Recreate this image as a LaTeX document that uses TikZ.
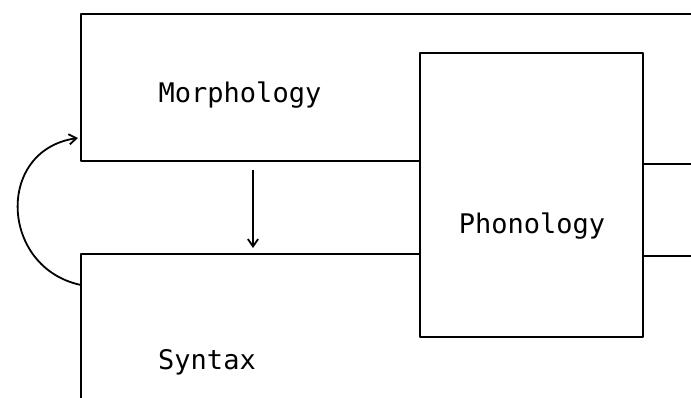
\documentclass[tikz,border=0pt]{standalone}
\usepackage{fontspec}
\setmonofont{DejaVu Sans Mono}
\usetikzlibrary{arrows.meta, positioning}
\tikzstyle{arrow} = [line width=1.8pt, -{Straight Barb[length=2.6mm, width=3.6mm]}]
\tikzstyle{frame} = [line width=2pt]
\tikzstyle{boxtext} = [font=\fontsize{27}{30}\selectfont\ttfamily, anchor=base, inner sep=0pt]

\begin{document}
\begin{tikzpicture}[x=1pt, y=-1pt, line join=round]
    \useasboundingbox (0,0) rectangle (691,398);

    % Morphology (runs off the top right)
    \draw[frame] (691,14) -- (81,14) -- (81,161) -- (420,161);
    % Syntax (runs off the bottom)
    \draw[frame] (81,398) -- (81,254) -- (420,254);
    % Phonology box and the lines leaving it
    \draw[frame] (420,53) rectangle (643,337);
    \draw[frame] (643,164) -- (691,164);
    \draw[frame] (643,256) -- (691,256);

    % Labels
    \node[boxtext] (morph) at (240,103) {Morphology};
    \node[boxtext] (phon)  at (532,234) {Phonology};
    \node[boxtext] (syn)   at (207,369) {Syntax};

    % Arrow ends
    \coordinate (morphbot)  at (253,170);
    \coordinate (syntop)    at (253,248);
    \coordinate (synleft)   at (81,285);
    \coordinate (morphleft) at (78,138);

    \draw[arrow] (morphbot) -- (syntop);
    \draw[arrow] (synleft) .. controls (0,268) and (-5,150) .. (morphleft);
\end{tikzpicture}
\end{document}
